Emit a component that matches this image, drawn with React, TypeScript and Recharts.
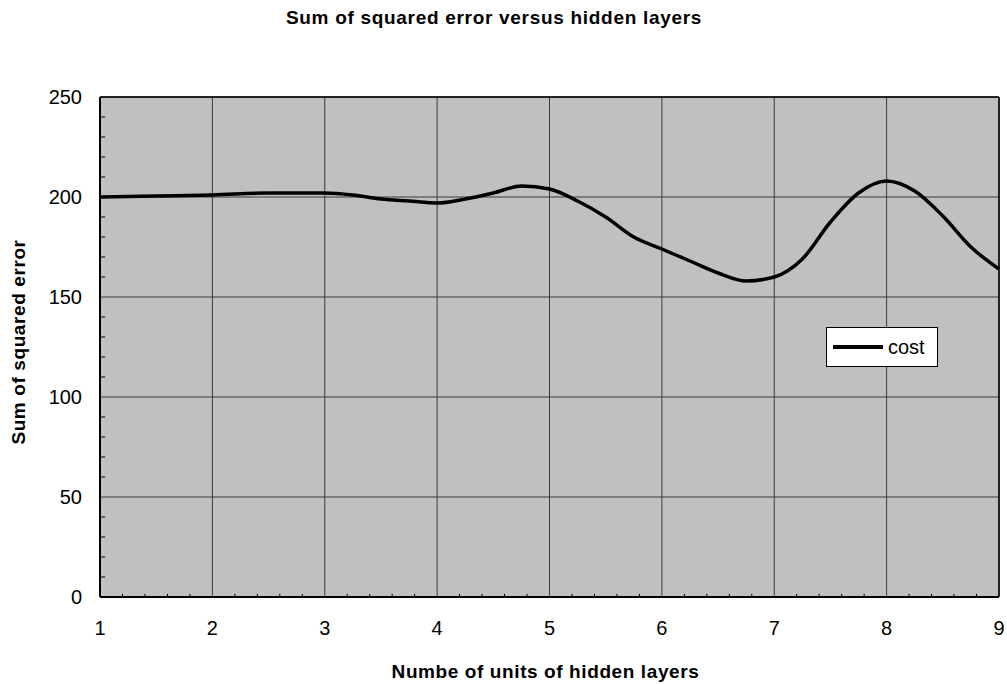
import {
  LineChart,
  Line,
  XAxis,
  YAxis,
  CartesianGrid,
  ReferenceLine,
  Legend,
} from "recharts";

// hidden-layer units (x) and cost
const units = [1, 1.5, 2, 2.5, 3, 3.25, 3.5, 3.75, 4, 4.25, 4.5, 4.75, 5, 5.25, 5.5, 5.75, 6, 6.25, 6.5, 6.75, 7, 7.25, 7.5, 7.75, 8, 8.25, 8.5, 8.75, 9];
const cost = [200, 200.5, 201, 202, 202, 201, 199, 198, 197, 199, 202, 205.5, 204, 198, 190, 180, 174, 168, 162, 158, 160, 169, 187.5, 202, 208, 203, 190.5, 175, 164];

const xTicks = [1, 2, 3, 4, 5, 6, 7, 8, 9];
const yTicks = [0, 50, 100, 150, 200, 250];
const xMinor = [1.2, 1.4, 1.6, 1.8, 2.2, 2.4, 2.6, 2.8, 3.2, 3.4, 3.6, 3.8, 4.2, 4.4, 4.6, 4.8, 5.2, 5.4, 5.6, 5.8, 6.2, 6.4, 6.6, 6.8, 7.2, 7.4, 7.6, 7.8, 8.2, 8.4, 8.6, 8.8];
const yMinor = [10, 20, 30, 40, 60, 70, 80, 90, 110, 120, 130, 140, 160, 170, 180, 190, 210, 220, 230, 240];

const data = units.map((u, i) => ({ units: u, cost: cost[i] }));

const FONT = "'Liberation Sans', Arial, sans-serif";

function CostLegend() {
  return (
    <div
      style={{
        width: 110,
        height: 38,
        background: "#fff",
        border: "1px solid #000",
        display: "flex",
        alignItems: "center",
        fontFamily: FONT,
        fontSize: 20,
        color: "#000",
      }}
    >
      <div style={{ width: 50, height: 3.5, background: "#000", marginLeft: 6, marginRight: 5 }} />
      <span>cost</span>
    </div>
  );
}

export default function App() {
  return (
    <div style={{ position: "absolute", left: 0, top: 0, width: 1007, height: 684, background: "#fff" }}>
      <LineChart
        width={1007}
        height={684}
        data={data}
        margin={{ top: 97, right: 8, left: 0, bottom: 0 }}
      >
        <text
          x={494}
          y={24}
          textAnchor="middle"
          style={{ fontFamily: FONT, fontSize: 19, fontWeight: 700, letterSpacing: 0.7 }}
          fill="#000"
        >
          Sum of squared error versus hidden layers
        </text>
        <CartesianGrid fill="#c0c0c0" stroke="#3a3a3a" strokeWidth={1} />
        <XAxis
          dataKey="units"
          type="number"
          domain={[1, 9]}
          ticks={xTicks}
          height={87}
          tickLine={false}
          tickSize={0}
          tickMargin={24}
          axisLine={{ stroke: "#000", strokeWidth: 2 }}
          tick={{ fill: "#000", fontSize: 20, fontFamily: FONT }}
          label={{
            value: "Numbe of units of hidden layers",
            position: "insideBottom",
            offset: 6,
            dx: -4,
            style: { fill: "#000", fontSize: 19, fontWeight: 700, fontFamily: FONT, letterSpacing: 0.6 },
          }}
        />
        <YAxis
          type="number"
          domain={[0, 250]}
          ticks={yTicks}
          width={100}
          tickLine={false}
          tickSize={0}
          tickMargin={18}
          axisLine={{ stroke: "#000", strokeWidth: 2 }}
          tick={{ fill: "#000", fontSize: 20, fontFamily: FONT }}
          label={{
            value: "Sum of squared error",
            angle: -90,
            position: "insideLeft",
            offset: 18,
            dy: -5,
            style: { fill: "#000", fontSize: 19, fontWeight: 700, fontFamily: FONT, letterSpacing: 0.6, textAnchor: "middle" },
          }}
        />
        <ReferenceLine y={250} stroke="#000" strokeWidth={1.5} />
        <ReferenceLine x={9} stroke="#000" strokeWidth={1.5} />
        {xMinor.map((v) => (
          <ReferenceLine key={"xm" + v} segment={[{ x: v, y: 0 }, { x: v, y: 1.6 }]} stroke="#000" />
        ))}
        {yMinor.map((v) => (
          <ReferenceLine key={"ym" + v} segment={[{ x: 1, y: v }, { x: 1.045, y: v }]} stroke="#000" />
        ))}
        <Legend
          layout="horizontal"
          verticalAlign="middle"
          align="center"
          content={() => <CostLegend />}
          wrapperStyle={{ position: "absolute", left: 826, top: 327, width: "auto", margin: 0 }}
        />
        <Line
          type="monotone"
          dataKey="cost"
          name="cost"
          stroke="#000"
          strokeWidth={3.5}
          dot={false}
          activeDot={false}
          isAnimationActive={false}
        />
      </LineChart>
    </div>
  );
}
